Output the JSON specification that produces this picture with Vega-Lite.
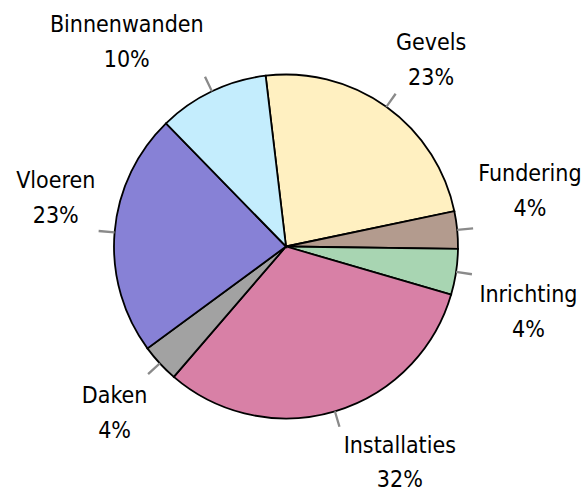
{
  "$schema": "https://vega.github.io/schema/vega-lite/v6.json",
  "width": 572,
  "height": 493,
  "autosize": {"type": "none"},
  "padding": {"left": 0, "top": 0, "right": 16, "bottom": 0},
  "background": "white",
  "config": {"view": {"stroke": null}},
  "data": {
    "values": [
      {"i": 1, "name": "Gevels", "value": 23.6, "pct": 23},
      {"i": 2, "name": "Fundering", "value": 3.5, "pct": 4},
      {"i": 3, "name": "Inrichting", "value": 4.3, "pct": 4},
      {"i": 4, "name": "Installaties", "value": 31.8, "pct": 32},
      {"i": 5, "name": "Daken", "value": 3.6, "pct": 4},
      {"i": 6, "name": "Vloeren", "value": 22.8, "pct": 23},
      {"i": 7, "name": "Binnenwanden", "value": 10.4, "pct": 10}
    ]
  },
  "transform": [
    {"window": [{"op": "sum", "field": "value", "as": "cum"}], "sort": [{"field": "i"}], "frame": [null, 0]},
    {"calculate": "datum.cum - datum.value / 2", "as": "mid"},
    {"calculate": "datum.mid - 0.1", "as": "t0"},
    {"calculate": "datum.mid + 0.1", "as": "t1"},
    {"calculate": "datum.name + '\\n' + datum.pct + '%'", "as": "txt"}
  ],
  "layer": [
    {
      "mark": {"type": "arc", "radius": 172, "stroke": "#000000", "strokeWidth": 1.8},
      "encoding": {
        "theta": {"field": "value", "type": "quantitative", "stack": true, "scale": {"domain": [0, 100], "range": [-0.11868, 6.1645]}},
        "order": {"field": "i", "type": "quantitative"},
        "color": {
          "field": "name", "type": "nominal", "legend": null,
          "scale": {
            "domain": ["Gevels", "Fundering", "Inrichting", "Installaties", "Daken", "Vloeren", "Binnenwanden"],
            "range": ["#FFF0C1", "#B39B8E", "#A8D5B2", "#D880A6", "#A2A2A2", "#8781D6", "#C4EDFD"]
          }
        }
      }
    },
    {
      "mark": {"type": "arc", "radius": 188, "radius2": 172, "color": "#8a8a8a"},
      "encoding": {
        "theta": {"field": "t0", "type": "quantitative", "stack": null, "scale": {"domain": [0, 100], "range": [-0.11868, 6.1645]}},
        "theta2": {"field": "t1"}
      }
    },
    {
      "transform": [{"filter": "datum.name === 'Gevels'"}],
      "mark": {"type": "text", "radius": 235, "dx": 8, "dy": -13, "font": "DejaVu Sans Condensed", "fontSize": 23, "lineBreak": "\n", "lineHeight": 35, "align": "center", "baseline": "middle", "color": "#000000"},
      "encoding": {
        "theta": {"field": "mid", "type": "quantitative", "stack": null, "scale": {"domain": [0, 100], "range": [-0.11868, 6.1645]}},
        "text": {"field": "txt", "type": "nominal"}
      }
    },
    {
      "transform": [{"filter": "datum.name === 'Fundering'"}],
      "mark": {"type": "text", "radius": 235, "dx": 10, "dy": -50, "font": "DejaVu Sans Condensed", "fontSize": 23, "lineBreak": "\n", "lineHeight": 35, "align": "center", "baseline": "middle", "color": "#000000"},
      "encoding": {
        "theta": {"field": "mid", "type": "quantitative", "stack": null, "scale": {"domain": [0, 100], "range": [-0.11868, 6.1645]}},
        "text": {"field": "txt", "type": "nominal"}
      }
    },
    {
      "transform": [{"filter": "datum.name === 'Inrichting'"}],
      "mark": {"type": "text", "radius": 235, "dx": 10, "dy": 14, "font": "DejaVu Sans Condensed", "fontSize": 23, "lineBreak": "\n", "lineHeight": 35, "align": "center", "baseline": "middle", "color": "#000000"},
      "encoding": {
        "theta": {"field": "mid", "type": "quantitative", "stack": null, "scale": {"domain": [0, 100], "range": [-0.11868, 6.1645]}},
        "text": {"field": "txt", "type": "nominal"}
      }
    },
    {
      "transform": [{"filter": "datum.name === 'Installaties'"}],
      "mark": {"type": "text", "radius": 235, "dx": 47, "dy": -26, "font": "DejaVu Sans Condensed", "fontSize": 23, "lineBreak": "\n", "lineHeight": 34, "align": "center", "baseline": "middle", "color": "#000000"},
      "encoding": {
        "theta": {"field": "mid", "type": "quantitative", "stack": null, "scale": {"domain": [0, 100], "range": [-0.11868, 6.1645]}},
        "text": {"field": "txt", "type": "nominal"}
      }
    },
    {
      "transform": [{"filter": "datum.name === 'Daken'"}],
      "mark": {"type": "text", "radius": 235, "dx": 1, "dy": -10, "font": "DejaVu Sans Condensed", "fontSize": 23, "lineBreak": "\n", "lineHeight": 35, "align": "center", "baseline": "middle", "color": "#000000"},
      "encoding": {
        "theta": {"field": "mid", "type": "quantitative", "stack": null, "scale": {"domain": [0, 100], "range": [-0.11868, 6.1645]}},
        "text": {"field": "txt", "type": "nominal"}
      }
    },
    {
      "transform": [{"filter": "datum.name === 'Vloeren'"}],
      "mark": {"type": "text", "radius": 235, "dx": 4, "dy": -46, "font": "DejaVu Sans Condensed", "fontSize": 23, "lineBreak": "\n", "lineHeight": 35, "align": "center", "baseline": "middle", "color": "#000000"},
      "encoding": {
        "theta": {"field": "mid", "type": "quantitative", "stack": null, "scale": {"domain": [0, 100], "range": [-0.11868, 6.1645]}},
        "text": {"field": "txt", "type": "nominal"}
      }
    },
    {
      "transform": [{"filter": "datum.name === 'Binnenwanden'"}],
      "mark": {"type": "text", "radius": 235, "dx": -58, "dy": -9, "font": "DejaVu Sans Condensed", "fontSize": 23, "lineBreak": "\n", "lineHeight": 35, "align": "center", "baseline": "middle", "color": "#000000"},
      "encoding": {
        "theta": {"field": "mid", "type": "quantitative", "stack": null, "scale": {"domain": [0, 100], "range": [-0.11868, 6.1645]}},
        "text": {"field": "txt", "type": "nominal"}
      }
    }
  ]
}
